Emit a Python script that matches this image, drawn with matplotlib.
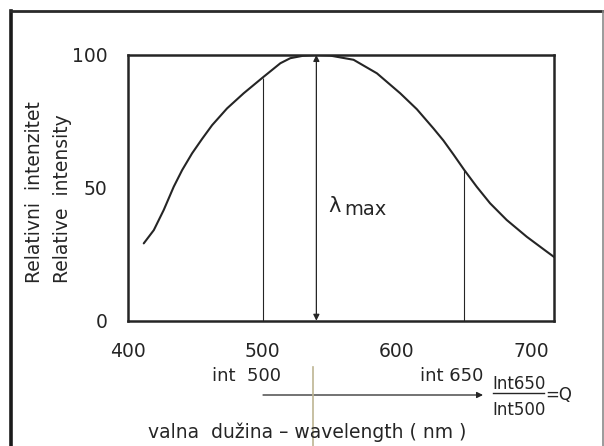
import matplotlib
matplotlib.use("Agg")
import matplotlib.pyplot as plt
from matplotlib.lines import Line2D
from matplotlib.patches import FancyArrowPatch

# ---- data ----
wavelength = [411.5, 419.0, 426.4, 433.8, 440.1, 447.5, 454.9, 462.4, 473.5, 485.9,
              500.0, 513.2, 520.6, 530.0, 540.0, 550.0, 567.7, 585.1, 602.4, 614.8,
              627.1, 634.6, 642.0, 650.0, 659.4, 669.3, 681.7, 696.6, 711.5, 716.9]
intensity = [29.1, 34.1, 41.7, 50.4, 56.7, 63.0, 68.4, 73.6, 79.9, 85.6,
             91.5, 96.9, 98.8, 99.7, 100.0, 99.8, 98.2, 93.1, 85.6, 79.6,
             72.4, 67.8, 62.6, 56.8, 50.4, 44.2, 37.9, 31.6, 26.0, 24.0]
x_ticks = [400, 500, 600, 700]
x_ticklabels = ["400", "500", "600", "700"]
y_ticks = [0, 50, 100]
y_ticklabels = ["0", "50", "100"]
lambda_max = 540.0
marked = [500.0, 650.0]

W, H = 604, 446
INK = "#252525"
plt.rcParams["font.family"] = ["DejaVu Sans"]

fig = plt.figure(figsize=(W / 100, H / 100), dpi=100)
fig.patch.set_facecolor("white")

def fx(x):
    return x / W

def fy(y):
    return 1 - y / H

ax = fig.add_axes([fx(128.3), fy(320.7), (554 - 128.3) / W, (320.7 - 55) / H])
ax.set_xlim(400, 716.9)
ax.set_ylim(0, 100)

ax.plot(wavelength, intensity, color=INK, lw=1.5, solid_capstyle="round",
        solid_joinstyle="round")

lookup = dict(zip(wavelength, intensity))
for m in marked:
    ax.vlines(m, 0, lookup[m], color=INK, lw=0.8)

ax.annotate("", xy=(lambda_max, 100), xytext=(lambda_max, 0),
            arrowprops=dict(arrowstyle="<|-|>", color=INK, lw=0.9,
                            mutation_scale=9, shrinkA=0, shrinkB=0))

for s in ax.spines.values():
    s.set_color(INK)
    s.set_linewidth(1.8)

ax.set_xticks(x_ticks)
ax.set_xticklabels(x_ticklabels)
ax.set_yticks(y_ticks)
ax.set_yticklabels(y_ticklabels)
ax.tick_params(axis="x", length=0, pad=15, labelsize=13.5, labelcolor=INK)
ax.tick_params(axis="y", length=0, pad=15, labelsize=13.5, labelcolor=INK)

# lambda max label
fig.text(fx(328), fy(212), "λ", fontsize=15, color=INK, ha="left", va="baseline")
fig.text(fx(344), fy(215), "max", fontsize=14, color=INK, ha="left", va="baseline")

# y labels
fig.text(fx(35), fy(283), "Relativni  intenzitet", rotation=90, rotation_mode="anchor",
         ha="left", va="center", fontsize=13.5, color=INK)
fig.text(fx(62), fy(283), "Relative  intensity", rotation=90, rotation_mode="anchor",
         ha="left", va="center", fontsize=13.5, color=INK)

# int labels
fig.text(fx(281), fy(376), "int  500", fontsize=13, color=INK, ha="right", va="center")
fig.text(fx(483), fy(376), "int 650", fontsize=13, color=INK, ha="right", va="center")

# arrow below
fig.add_artist(FancyArrowPatch(
    (fx(263), fy(395)), (fx(483), fy(395)), transform=fig.transFigure,
    arrowstyle="-|>", mutation_scale=9, color=INK, lw=0.9, shrinkA=0, shrinkB=0))

# fraction
fig.text(fx(519), fy(384), "Int650", fontsize=12, color=INK, ha="center", va="center")
fig.add_artist(Line2D([fx(493), fx(544)], [fy(393), fy(393)], color=INK, lw=1.0))
fig.text(fx(519), fy(410), "Int500", fontsize=12, color=INK, ha="center", va="center")
fig.text(fx(545), fy(395), "=Q", fontsize=12, color=INK, ha="left", va="center")

# x label
fig.text(fx(307), fy(432), "valna  dužina – wavelength ( nm )", fontsize=13.5,
         color=INK, ha="center", va="center")

# scan artifact line
fig.add_artist(Line2D([fx(313), fx(313)], [fy(367), fy(446)], color="#bdb592", lw=1.2))

# outer frame (left, top, right)
fig.add_artist(Line2D([fx(11), fx(11)], [0, fy(11)], color="#1a1a1a", lw=2.6))
fig.add_artist(Line2D([fx(11), fx(603)], [fy(11), fy(11)], color="#2a2a2a", lw=2.0))
fig.add_artist(Line2D([fx(603), fx(603)], [fy(11), 0], color="#8a8a8a", lw=1.2))

fig.savefig("out.png", dpi=100, facecolor="white")
